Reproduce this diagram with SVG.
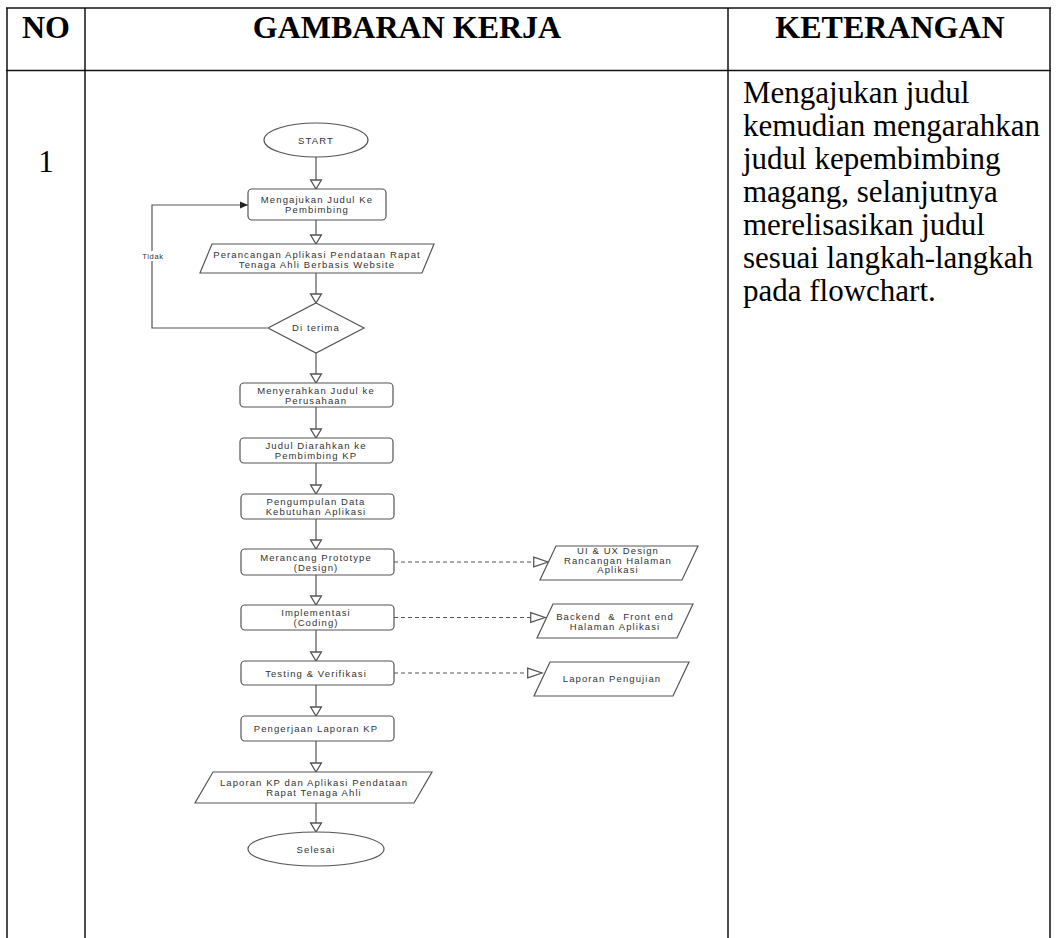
<svg xmlns="http://www.w3.org/2000/svg" width="1057" height="938" viewBox="0 0 1057 938">
<style>
.tbl{stroke:#111;stroke-width:1.5;fill:none}
.h{font-family:"Liberation Serif","Times New Roman",serif;font-size:32px;font-weight:bold;text-anchor:middle;fill:#000}
.b{font-family:"Liberation Serif","Times New Roman",serif;font-size:31px;fill:#000}
.t{font-family:"Liberation Sans",Arial,sans-serif;font-size:9.5px;letter-spacing:1.1px;fill:#333;text-anchor:middle}
.sm{font-size:7.5px;letter-spacing:0.7px}
.sh{fill:#fff;stroke:#555;stroke-width:1.2}
.c{stroke:#555;stroke-width:1.2;fill:none}
.d{stroke-dasharray:4 3}
</style>
<defs>
<marker id="open" markerUnits="userSpaceOnUse" markerWidth="12" markerHeight="12" refX="8" refY="5" orient="auto" viewBox="0 0 10 10" overflow="visible">
<path d="M0.5,0.5 L8,5 L0.5,9.5 Z" fill="#fff" stroke="#555" stroke-width="1.1"/>
</marker>
<marker id="openL" markerUnits="userSpaceOnUse" markerWidth="16" markerHeight="12" refX="13" refY="5" orient="auto" viewBox="0 0 14 10" overflow="visible">
<path d="M0.5,0.8 L13,5 L0.5,9.2 Z" fill="#fff" stroke="#555" stroke-width="1.1"/>
</marker>
<marker id="fill" markerUnits="userSpaceOnUse" markerWidth="8" markerHeight="8" refX="7" refY="3" orient="auto" viewBox="0 0 7 6" overflow="visible">
<path d="M0,0 L7,3 L0,6 Z" fill="#222"/>
</marker>
</defs>

<g id="table">
<line class="tbl" x1="6" y1="8" x2="1051" y2="8"/>
<line class="tbl" x1="6" y1="70.5" x2="1051" y2="70.5"/>
<line class="tbl" x1="7" y1="8" x2="7" y2="938"/>
<line class="tbl" x1="85" y1="8" x2="85" y2="938"/>
<line class="tbl" x1="728" y1="8" x2="728" y2="938"/>
<line class="tbl" x1="1050" y1="8" x2="1050" y2="938"/>
<text class="h" x="46" y="38">NO</text>
<text class="h" x="407" y="38">GAMBARAN KERJA</text>
<text class="h" x="890" y="38">KETERANGAN</text>
<text class="b" x="46" y="172" text-anchor="middle">1</text>
<text class="b" x="743" y="103">Mengajukan judul</text>
<text class="b" x="743" y="136">kemudian mengarahkan</text>
<text class="b" x="743" y="169">judul kepembimbing</text>
<text class="b" x="743" y="202">magang, selanjutnya</text>
<text class="b" x="743" y="235">merelisasikan judul</text>
<text class="b" x="743" y="268">sesuai langkah-langkah</text>
<text class="b" x="743" y="301">pada flowchart.</text>
</g>

<g id="connectors">
<line class="c" x1="316" y1="157" x2="316" y2="189" marker-end="url(#open)"/>
<line class="c" x1="316" y1="220" x2="316" y2="244" marker-end="url(#open)"/>
<line class="c" x1="316" y1="273" x2="316" y2="303" marker-end="url(#open)"/>
<line class="c" x1="316" y1="353" x2="316" y2="383" marker-end="url(#open)"/>
<line class="c" x1="316" y1="407" x2="316" y2="438" marker-end="url(#open)"/>
<line class="c" x1="316" y1="463" x2="316" y2="494" marker-end="url(#open)"/>
<line class="c" x1="316" y1="519" x2="316" y2="549" marker-end="url(#open)"/>
<line class="c" x1="316" y1="575" x2="316" y2="605" marker-end="url(#open)"/>
<line class="c" x1="316" y1="630" x2="316" y2="661" marker-end="url(#open)"/>
<line class="c" x1="316" y1="685" x2="316" y2="716" marker-end="url(#open)"/>
<line class="c" x1="316" y1="741" x2="316" y2="772" marker-end="url(#open)"/>
<line class="c" x1="316" y1="803" x2="316" y2="832" marker-end="url(#open)"/>
<polyline class="c" points="267,328 152,328 152,205 248,205" marker-end="url(#fill)"/>
<rect x="139" y="251" width="28" height="10" fill="#fff"/>
<text class="t sm" x="153" y="259">Tidak</text>
<line class="c d" x1="394" y1="562" x2="548" y2="562" marker-end="url(#openL)"/>
<line class="c d" x1="394" y1="617.5" x2="545" y2="617.5" marker-end="url(#openL)"/>
<line class="c d" x1="394" y1="673" x2="542" y2="673" marker-end="url(#openL)"/>
</g>

<g id="start">
<ellipse class="sh" cx="316" cy="140" rx="52" ry="17"/>
<text class="t" x="316" y="143.5">START</text>
</g>
<g id="ajukan">
<rect class="sh" x="248" y="189" width="138" height="31" rx="4"/>
<text class="t" x="317" y="203">Mengajukan Judul Ke</text>
<text class="t" x="317" y="213">Pembimbing</text>
</g>
<g id="perancangan">
<polygon class="sh" points="212,244 434,244 422,273 200,273"/>
<text class="t" x="317" y="257.5">Perancangan Aplikasi Pendataan Rapat</text>
<text class="t" x="317" y="267.5">Tenaga Ahli Berbasis Website</text>
</g>
<g id="diterima">
<polygon class="sh" points="316,303 364,328 316,353 268,328"/>
<text class="t" x="316" y="331">Di terima</text>
</g>
<g id="menyerahkan">
<rect class="sh" x="240" y="383" width="153" height="24" rx="4"/>
<text class="t" x="316" y="393.5">Menyerahkan Judul ke</text>
<text class="t" x="316" y="403.5">Perusahaan</text>
</g>
<g id="diarahkan">
<rect class="sh" x="240" y="438" width="153" height="25" rx="4"/>
<text class="t" x="316" y="449">Judul Diarahkan ke</text>
<text class="t" x="316" y="459">Pembimbing KP</text>
</g>
<g id="pengumpulan">
<rect class="sh" x="241" y="494" width="153" height="25" rx="4"/>
<text class="t" x="316" y="505">Pengumpulan Data</text>
<text class="t" x="316" y="515">Kebutuhan Aplikasi</text>
</g>
<g id="merancang">
<rect class="sh" x="241" y="549" width="153" height="26" rx="4"/>
<text class="t" x="316" y="560.5">Merancang Prototype</text>
<text class="t" x="316" y="570.5">(Design)</text>
</g>
<g id="implementasi">
<rect class="sh" x="241" y="605" width="153" height="25" rx="4"/>
<text class="t" x="316" y="616">Implementasi</text>
<text class="t" x="316" y="626">(Coding)</text>
</g>
<g id="testing">
<rect class="sh" x="241" y="661" width="153" height="24" rx="4"/>
<text class="t" x="316" y="676.5">Testing &amp; Verifikasi</text>
</g>
<g id="pengerjaan">
<rect class="sh" x="241" y="716" width="153" height="25" rx="4"/>
<text class="t" x="316" y="731.5">Pengerjaan Laporan KP</text>
</g>
<g id="laporan-kp">
<polygon class="sh" points="213,772 432,772 414,803 195,803"/>
<text class="t" x="314" y="786">Laporan KP dan Aplikasi Pendataan</text>
<text class="t" x="314" y="796">Rapat Tenaga Ahli</text>
</g>
<g id="selesai">
<ellipse class="sh" cx="316" cy="849" rx="68" ry="17"/>
<text class="t" x="316" y="852.5">Selesai</text>
</g>
<g id="uiux">
<polygon class="sh" points="556,546 698,546 682,580 540,580"/>
<text class="t" x="618" y="554">UI &amp; UX Design</text>
<text class="t" x="618" y="563.5">Rancangan Halaman</text>
<text class="t" x="618" y="573">Aplikasi</text>
</g>
<g id="backend">
<polygon class="sh" points="553,604 693,604 677,638 537,638"/>
<text class="t" x="615" y="619.5" xml:space="preserve">Backend  &amp;  Front end</text>
<text class="t" x="615" y="629.5">Halaman Aplikasi</text>
</g>
<g id="pengujian">
<polygon class="sh" points="550,662 689,662 673,696 534,696"/>
<text class="t" x="612" y="682">Laporan Pengujian</text>
</g>
</svg>
